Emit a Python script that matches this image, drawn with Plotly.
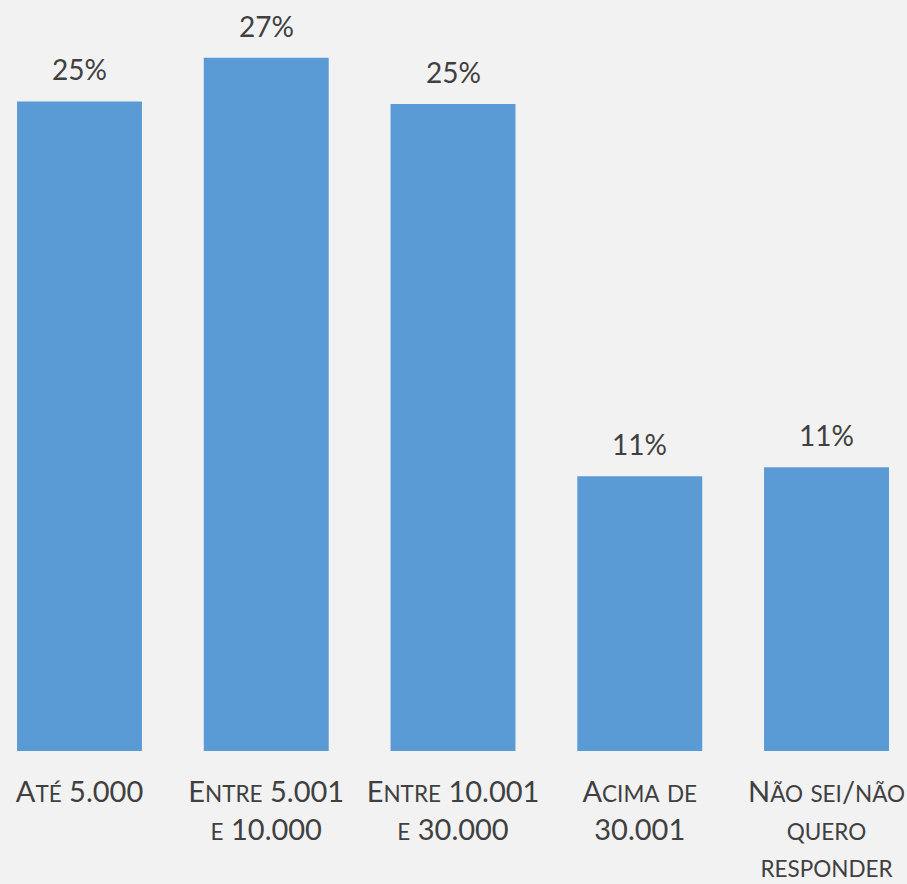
import plotly.graph_objects as go

categories = ["Até 5.000", "Entre 5.001<br>e 10.000", "Entre 10.001<br>e 30.000",
              "Acima de<br>30.001", "Não sei/não<br>quero<br>responder"]
values = [25.3, 27.0, 25.2, 10.7, 11.05]
value_labels = ["25%", "27%", "25%", "11%", "11%"]


def small_caps(label, small_size=22.5):
    lines = []
    for line in label.split("<br>"):
        out, buf = [], ""
        for ch in line:
            if ch.islower():
                buf += ch.upper()
            else:
                if buf:
                    out.append(f"<span style='font-size:{small_size}px'>{buf}</span>")
                    buf = ""
                out.append(ch)
        if buf:
            out.append(f"<span style='font-size:{small_size}px'>{buf}</span>")
        lines.append("".join(out))
    return "<br>".join(lines)


xs = list(range(len(categories)))

fig = go.Figure(go.Bar(
    x=xs,
    y=values,
    marker=dict(color="#5b9bd5", line=dict(width=0)),
    width=0.669,
    hoverinfo="skip",
))

for x, v, t in zip(xs, values, value_labels):
    fig.add_annotation(x=x, y=v, text=t, showarrow=False, yanchor="bottom",
                       yshift=13, font=dict(family="Lato", size=28, color="#404040"))

fig.update_layout(
    width=907, height=884,
    paper_bgcolor="#f2f2f2", plot_bgcolor="#f2f2f2",
    margin=dict(l=0, r=0, t=0, b=133, autoexpand=False),
    showlegend=False,
    xaxis=dict(
        tickmode="array",
        tickvals=xs,
        ticktext=[small_caps(c) for c in categories],
        range=[-0.4257, 4.431],
        showgrid=False, zeroline=False, showline=False,
        automargin=False,
        ticks="outside", ticklen=15, tickcolor="rgba(0,0,0,0)",
        tickfont=dict(family="Lato", size=29, color="#404040"),
    ),
    yaxis=dict(range=[0, 29.25], visible=False, automargin=False),
)

fig.write_html("out.html", config={"displayModeBar": False},
               post_script="document.body.style.margin='0';document.body.style.background='#f2f2f2';")
